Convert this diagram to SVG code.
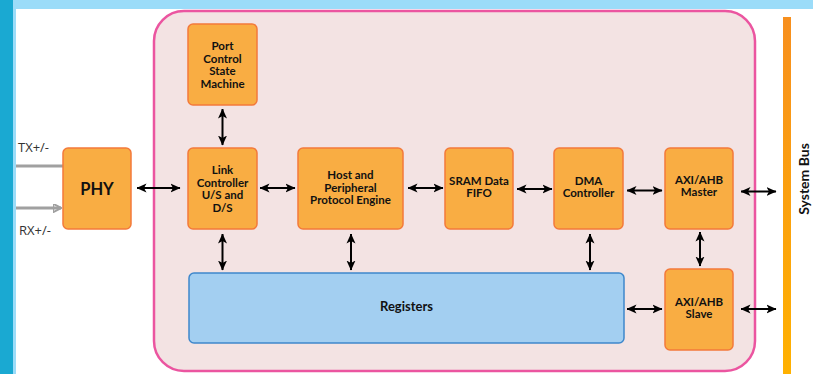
<svg xmlns="http://www.w3.org/2000/svg" width="813" height="374" viewBox="0 0 813 374">
<defs>
<linearGradient id="busg" x1="0" y1="0" x2="0" y2="1">
<stop offset="0" stop-color="#f78f1e"/>
<stop offset="1" stop-color="#ffb100"/>
</linearGradient>
<marker id="ah" viewBox="0 0 10 10" refX="9.5" refY="5" markerWidth="10" markerHeight="10" markerUnits="userSpaceOnUse" orient="auto-start-reverse">
<path d="M0,0.5 L10,5 L0,9.5 L2.5,5 z" fill="#000"/>
</marker>
<marker id="ag" viewBox="0 0 9 9" refX="8.5" refY="4.5" markerWidth="9" markerHeight="9" markerUnits="userSpaceOnUse" orient="auto">
<path d="M0,0 L9,4.5 L0,9 L1,4.5 z" fill="none" stroke="#a0a0a0" stroke-width="2"/>
</marker>
</defs>
<style>
.blk{fill:#f9ad43;stroke:#f37a3b;stroke-width:1.5}
.reg{fill:#a3cff1;stroke:#3f88cc;stroke-width:1.5}
.lb{font-family:Lato,"Liberation Sans",sans-serif;font-weight:bold;font-size:11.5px;fill:#111;text-anchor:middle}
.sig{font-family:"Open Sans","Liberation Sans",sans-serif;font-size:13px;fill:#333}
.con line{stroke:#000;stroke-width:2;marker-start:url(#ah);marker-end:url(#ah)}
</style>
<rect x="0" y="0" width="813" height="374" fill="#fff"/>
<rect x="0" y="0" width="813" height="9" fill="#9bdcf9"/>
<rect x="0" y="0" width="13" height="374" fill="#1aa9d2"/>
<rect x="13" y="9" width="3" height="365" fill="#9bdcf9"/>
<rect id="container" x="154" y="11" width="601" height="360" rx="30" fill="#f3e3e3" stroke="#eb55a0" stroke-width="2.5"/>
<rect id="bus" x="783" y="17" width="8" height="357" fill="url(#busg)"/>
<text class="lb" style="font-size:14px" transform="translate(809,179) rotate(-90)">System Bus</text>
<g id="tx">
<line x1="16" y1="166" x2="63" y2="166" stroke="#a0a0a0" stroke-width="3"/>
<text class="sig" x="18" y="152">TX+/-</text>
</g>
<g id="rx">
<line x1="16" y1="208" x2="61" y2="208" stroke="#a0a0a0" stroke-width="3" marker-end="url(#ag)"/>
<text class="sig" x="19" y="235">RX+/-</text>
</g>
<g id="phy"><rect class="blk" x="63" y="148" width="68" height="81" rx="5"/><text class="lb" style="font-size:16.5px" x="97" y="195">PHY</text></g>
<g id="port"><rect class="blk" x="188" y="24" width="69" height="81" rx="5"/><text class="lb" x="222.5" y="50">Port</text><text class="lb" x="222.5" y="62.5">Control</text><text class="lb" x="222.5" y="75">State</text><text class="lb" x="222.5" y="87.5">Machine</text></g>
<g id="link"><rect class="blk" x="188" y="148" width="69" height="81" rx="5"/><text class="lb" x="222.5" y="174">Link</text><text class="lb" x="222.5" y="186.5">Controller</text><text class="lb" x="222.5" y="199">U/S and</text><text class="lb" x="222.5" y="211.5">D/S</text></g>
<g id="host"><rect class="blk" x="298" y="148" width="105" height="81" rx="5"/><text class="lb" x="350.5" y="179">Host and</text><text class="lb" x="350.5" y="191.5">Peripheral</text><text class="lb" x="350.5" y="204">Protocol Engine</text></g>
<g id="sram"><rect class="blk" x="445" y="148" width="68" height="81" rx="5"/><text class="lb" x="479" y="185">SRAM Data</text><text class="lb" x="479" y="197">FIFO</text></g>
<g id="dma"><rect class="blk" x="554" y="148" width="69" height="81" rx="5"/><text class="lb" x="588.5" y="185">DMA</text><text class="lb" x="588.5" y="197">Controller</text></g>
<g id="axim"><rect class="blk" x="665" y="148" width="68" height="81" rx="5"/><text class="lb" x="699" y="184">AXI/AHB</text><text class="lb" x="699" y="196">Master</text></g>
<g id="axis"><rect class="blk" x="665" y="269" width="68" height="81" rx="5"/><text class="lb" x="699" y="305.5">AXI/AHB</text><text class="lb" x="699" y="317.5">Slave</text></g>
<g id="registers"><rect class="reg" x="189" y="273" width="435" height="70" rx="5"/><text class="lb" style="font-size:13px" x="406.5" y="311">Registers</text></g>
<g id="connectors" class="con">
<line x1="137" y1="188" x2="180" y2="188"/>
<line x1="260" y1="188" x2="295" y2="188"/>
<line x1="408" y1="188" x2="443" y2="188"/>
<line x1="517" y1="189" x2="552" y2="189"/>
<line x1="627" y1="190.5" x2="662" y2="190.5"/>
<line x1="741" y1="191.5" x2="776" y2="191.5"/>
<line x1="222.5" y1="109" x2="222.5" y2="145"/>
<line x1="222.5" y1="234" x2="222.5" y2="270"/>
<line x1="351" y1="234" x2="351" y2="270"/>
<line x1="590" y1="234" x2="590" y2="270"/>
<line x1="700" y1="232" x2="700" y2="266"/>
<line x1="627" y1="309" x2="662" y2="309"/>
<line x1="741" y1="309" x2="776" y2="309"/>
</g>
</svg>
